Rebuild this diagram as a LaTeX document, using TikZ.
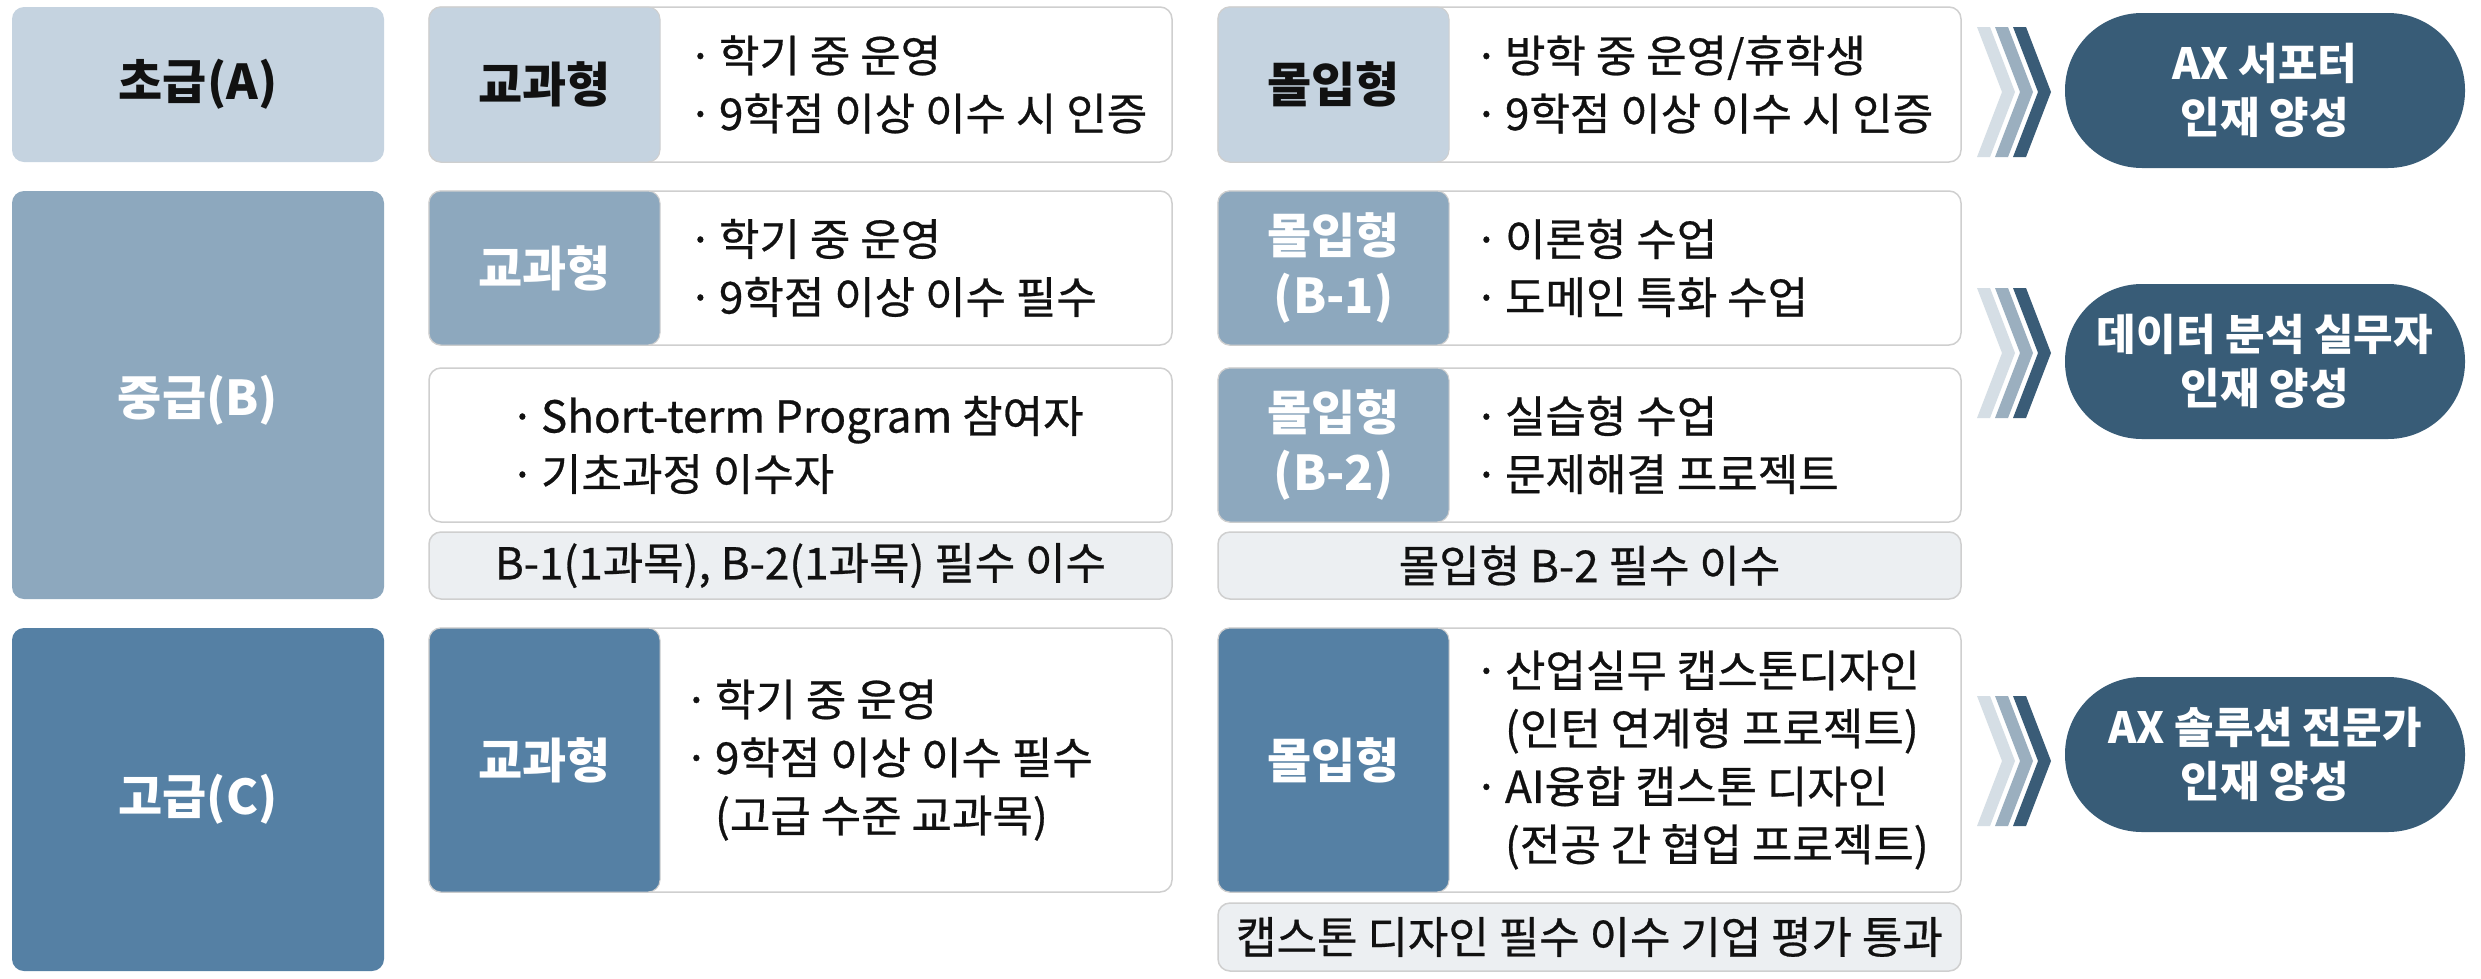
\documentclass[tikz,border=0pt]{standalone}
\usepackage{fontspec}
\setmainfont{Noto Sans CJK KR}
\newfontfamily\medf{Noto Sans CJK KR}[FakeBold=0.6]
\definecolor{colA}{HTML}{C5D3E0}
\definecolor{colB}{HTML}{8DA8BE}
\definecolor{colC}{HTML}{5580A4}
\definecolor{pillc}{HTML}{385C77}
\definecolor{chevA}{HTML}{D5DEE5}
\definecolor{chevB}{HTML}{9BAFBF}
\definecolor{chevC}{HTML}{3A5C77}
\definecolor{footc}{HTML}{ECEFF2}
\definecolor{bordc}{HTML}{CFCFCF}
\definecolor{txt}{HTML}{111111}
\newcommand\mychev[3]{\fill[#3] (#1,#2-65) -- (#1+13,#2-65) -- (#1+38,#2) -- (#1+13,#2+65) -- (#1,#2+65) -- (#1+25,#2) -- cycle;}
\newcommand\bu{·\hspace{0.14em}}
\begin{document}
\begin{tikzpicture}[x=1pt,y=-1pt,
  base/.style={rectangle, inner sep=0pt, rounded corners=12pt},
  level/.style={base, minimum width=372pt},
  outer/.style={base, fill=white, draw=bordc, line width=1.5pt, minimum width=743pt},
  foot/.style={base, fill=footc, draw=bordc, line width=1.5pt, minimum width=743pt, minimum height=67pt},
  lab/.style={base, draw=bordc, line width=1pt, minimum width=231pt},
  pill/.style={rectangle, inner sep=0pt, rounded corners=77pt, fill=pillc, minimum width=400pt, minimum height=155pt},
  big/.style={font=\fontsize{48}{60}\selectfont\bfseries, align=center},
  bul/.style={font=\medf\fontsize{44}{58}\selectfont, text=txt, align=left, anchor=west, inner sep=0pt},
  ctr/.style={font=\medf\fontsize{44}{58}\selectfont, text=txt, align=center, inner sep=0pt},
  ptxt/.style={font=\fontsize{43}{54}\selectfont\bfseries, text=white, align=center, inner sep=0pt}
]
\useasboundingbox (0,0) rectangle (2481,978);
\fill[white] (0,0) rectangle (2481,978);

% level boxes
\node[level, fill=colA, minimum height=155pt] (lvA) at (198,84.5) {};
\node[level, fill=colB, minimum height=408pt] (lvB) at (198,395) {};
\node[level, fill=colC, minimum height=343pt] (lvC) at (198,799.5) {};
\node[big, text=txt] (lvAt) at (lvA) {초급(A)};
\node[big, text=white] (lvBt) at (198,400) {중급(B)};
\node[big, text=white] (lvCt) at (lvC) {고급(C)};

% column 2 outer boxes
\node[outer, minimum height=155pt] (a2) at (800.5,84.5) {};
\node[outer, minimum height=154pt] (b2) at (800.5,268) {};
\node[outer, minimum height=154pt] (s2) at (800.5,445) {};
\node[foot] (f2) at (800.5,565.5) {};
\node[outer, minimum height=264pt] (c2) at (800.5,760) {};
% column 3 outer boxes
\node[outer, minimum height=155pt] (a3) at (1589.5,84.5) {};
\node[outer, minimum height=154pt] (b3) at (1589.5,268) {};
\node[outer, minimum height=154pt] (bb3) at (1589.5,445) {};
\node[foot] (f3) at (1589.5,565.5) {};
\node[outer, minimum height=264pt] (c3) at (1589.5,760) {};
\node[foot, minimum height=68pt] (cf3) at (1589.5,937) {};

% label cells
\node[lab, fill=colA, minimum height=155pt] (la2) at (544.5,84.5) {};
\node[lab, fill=colB, minimum height=154pt] (lb2) at (544.5,268) {};
\node[lab, fill=colC, minimum height=264pt] (lc2) at (544.5,760) {};
\node[lab, fill=colA, minimum height=155pt] (la3) at (1333.5,84.5) {};
\node[lab, fill=colB, minimum height=154pt] (lb3) at (1333.5,268) {};
\node[lab, fill=colB, minimum height=154pt] (lbb3) at (1333.5,445) {};
\node[lab, fill=colC, minimum height=264pt] (lc3) at (1333.5,760) {};

% label texts
\node[big, text=txt] at (la2) {교과형};
\node[big, text=white] at (lb2) {교과형};
\node[big, text=white] at (lc2) {교과형};
\node[big, text=txt] at (la3) {몰입형};
\node[big, text=white] at (lb3) {몰입형\\(B-1)};
\node[big, text=white] at (lbb3) {몰입형\\(B-2)};
\node[big, text=white] at (lc3) {몰입형};

% bullet texts
\node[bul] at (688,84.5) {\bu 학기 중 운영\\\bu 9학점 이상 이수 시 인증};
\node[bul] at (688,268) {\bu 학기 중 운영\\\bu 9학점 이상 이수 필수};
\node[bul] at (510,445) {\bu Short-term Program 참여자\\\bu 기초과정 이수자};
\node[bul] at (684,760) {\bu 학기 중 운영\\\bu 9학점 이상 이수 필수\\\hphantom{\bu}(고급 수준 교과목)};
\node[bul] at (1474,84.5) {\bu 방학 중 운영/휴학생\\\bu 9학점 이상 이수 시 인증};
\node[bul] at (1474,268) {\bu 이론형 수업\\\bu 도메인 특화 수업};
\node[bul] at (1474,445) {\bu 실습형 수업\\\bu 문제해결 프로젝트};
\node[bul] at (1474,760) {\bu 산업실무 캡스톤디자인\\\hphantom{\bu}(인턴 연계형 프로젝트)\\\bu AI융합 캡스톤 디자인\\\hphantom{\bu}(전공 간 협업 프로젝트)};

% footer texts
\node[ctr] at (f2) {B-1(1과목), B-2(1과목) 필수 이수};
\node[ctr] at (f3) {몰입형 B-2 필수 이수};
\node[ctr] at (cf3) {캡스톤 디자인 필수 이수 기업 평가 통과};

% chevrons
\mychev{1977}{92}{chevA}
\mychev{1995}{92}{chevB}
\mychev{2013}{92}{chevC}
\mychev{1977}{353}{chevA}
\mychev{1995}{353}{chevB}
\mychev{2013}{353}{chevC}
\mychev{1977}{761}{chevA}
\mychev{1995}{761}{chevB}
\mychev{2013}{761}{chevC}

% pills
\node[pill] (pA) at (2265,90.5) {};
\node[pill] (pB) at (2265,361.5) {};
\node[pill] (pC) at (2265,754.5) {};
\node[ptxt] at (pA) {AX 서포터\\인재 양성};
\node[ptxt] at (pB) {데이터 분석 실무자\\인재 양성};
\node[ptxt] at (pC) {AX 솔루션 전문가\\인재 양성};
\end{tikzpicture}
\end{document}
